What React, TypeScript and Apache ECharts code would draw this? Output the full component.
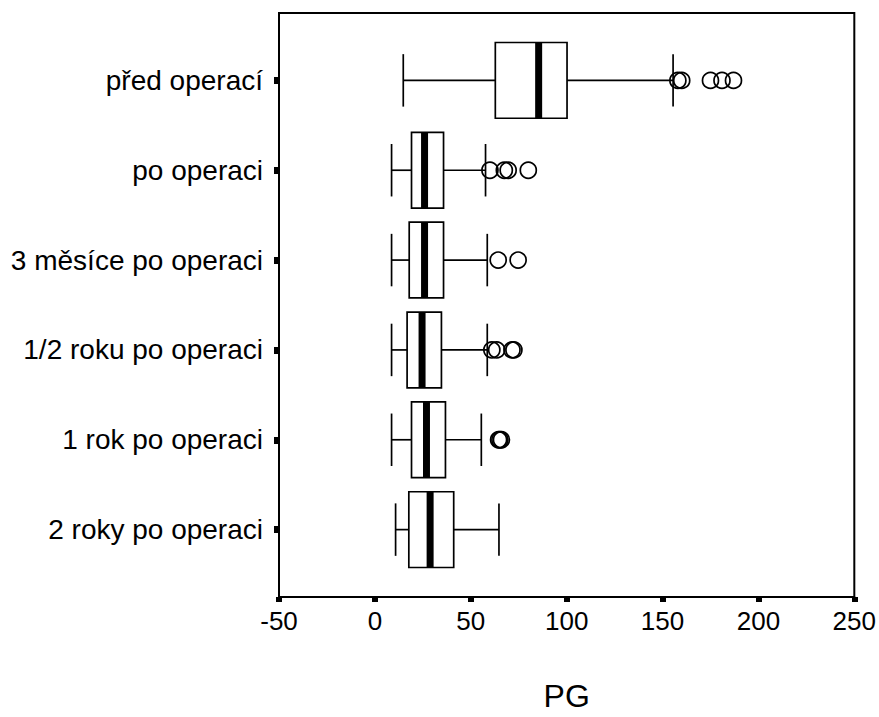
import React, { useEffect, useRef } from "react";
import * as echarts from "echarts";

const categories = [
  "před operací",
  "po operaci",
  "3 měsíce po operaci",
  "1/2 roku po operaci",
  "1 rok po operaci",
  "2 roky po operaci",
];
const whiskerLow = [14.8, 8.7, 8.7, 8.7, 8.7, 10.8];
const q1 = [62.8, 19.1, 17.9, 16.8, 19.1, 17.7];
const median = [85.4, 25.9, 25.9, 24.6, 26.9, 28.8];
const q3 = [100.2, 35.8, 35.8, 34.7, 36.8, 41.1];
const whiskerHigh = [155.5, 57.7, 58.6, 58.6, 55.5, 64.7];
const outliers: number[][] = [
  [158, 160, 175, 181, 187],
  [60, 67.5, 69.5, 80],
  [64.3, 74.7],
  [61, 63.5, 71.5, 72.5],
  [64.5, 65.2, 66],
  [],
];
const xTicks = [-50, 0, 50, 100, 150, 200, 250];
const axisTitle = "PG";

const FONT = "'Liberation Sans', Arial, sans-serif";

export default function App() {
  const ref = useRef<HTMLDivElement>(null);
  useEffect(() => {
    if (!ref.current) return;
    const chart = echarts.init(ref.current, null, { renderer: "svg" });
    const boxData = categories.map((_, i) => [
      i,
      whiskerLow[i],
      q1[i],
      median[i],
      q3[i],
      whiskerHigh[i],
    ]);
    const outlierData: number[][] = [];
    outliers.forEach((arr, i) => arr.forEach((v) => outlierData.push([v, i])));
    const idxs = categories.map((_, i) => i);

    const lw = 1.7;
    const renderItem = (params: any, api: any) => {
      const i = api.value(0);
      const lo = api.coord([api.value(1), i]);
      const a = api.coord([api.value(2), i]);
      const m = api.coord([api.value(3), i]);
      const b = api.coord([api.value(4), i]);
      const hi = api.coord([api.value(5), i]);
      const unit = api.size([0, 1])[1];
      const boxH = unit * 0.843;
      const capH = unit * 0.584;
      const cy = a[1];
      const ls = { stroke: "#000", lineWidth: lw, fill: null };
      return {
        type: "group",
        children: [
          { type: "line", shape: { x1: lo[0], y1: cy, x2: a[0], y2: cy }, style: ls },
          { type: "line", shape: { x1: b[0], y1: cy, x2: hi[0], y2: cy }, style: ls },
          { type: "line", shape: { x1: lo[0], y1: cy - capH / 2, x2: lo[0], y2: cy + capH / 2 }, style: ls },
          { type: "line", shape: { x1: hi[0], y1: cy - capH / 2, x2: hi[0], y2: cy + capH / 2 }, style: ls },
          {
            type: "rect",
            shape: { x: a[0], y: cy - boxH / 2, width: b[0] - a[0], height: boxH },
            style: { fill: "#fff", stroke: "#000", lineWidth: lw },
          },
          {
            type: "rect",
            shape: { x: m[0] - 3.5, y: cy - boxH / 2, width: 7, height: boxH },
            style: { fill: "#000" },
          },
        ],
      };
    };

    chart.setOption({
      animation: false,
      backgroundColor: "#fff",
      grid: {
        left: 279,
        right: 23,
        top: 13,
        bottom: 114.5,
        show: true,
        borderColor: "#000",
        borderWidth: 2,
        backgroundColor: "transparent",
      },
      xAxis: {
        type: "value",
        min: xTicks[0],
        max: xTicks[xTicks.length - 1],
        interval: 50,
        name: axisTitle,
        nameLocation: "middle",
        nameGap: 83,
        nameTextStyle: { fontSize: 32, color: "#000", fontFamily: FONT },
        axisLine: { show: true, onZero: false, lineStyle: { color: "#000", width: 2 } },
        axisTick: { show: true, length: 5, lineStyle: { color: "#000", width: 6 } },
        axisLabel: { fontSize: 26, color: "#000", fontFamily: FONT, margin: 11 },
        splitLine: { show: false },
      },
      yAxis: {
        type: "value",
        min: -0.75,
        max: 5.75,
        inverse: true,
        axisLine: { show: true, onZero: false, lineStyle: { color: "#000", width: 2 } },
        axisTick: {
          show: true,
          customValues: idxs,
          length: 5,
          lineStyle: { color: "#000", width: 7 },
        },
        axisLabel: {
          customValues: idxs,
          formatter: (v: number) => categories[Math.round(v)] ?? "",
          fontSize: 28,
          color: "#000",
          fontFamily: FONT,
          margin: 16,
        },
        splitLine: { show: false },
      },
      series: [
        {
          type: "custom",
          renderItem,
          data: boxData,
          encode: { x: [1, 2, 3, 4, 5], y: 0 },
          z: 2,
          clip: false,
        },
        {
          type: "scatter",
          data: outlierData,
          symbol: "circle",
          symbolSize: 16,
          itemStyle: { color: "rgba(0,0,0,0)", borderColor: "#000", borderWidth: 1.7, opacity: 1 },
          z: 3,
        },
      ],
    });
    return () => chart.dispose();
  }, []);
  return (
    <div
      ref={ref}
      style={{ position: "fixed", left: 0, top: 0, width: 879, height: 717, background: "#fff" }}
    />
  );
}
